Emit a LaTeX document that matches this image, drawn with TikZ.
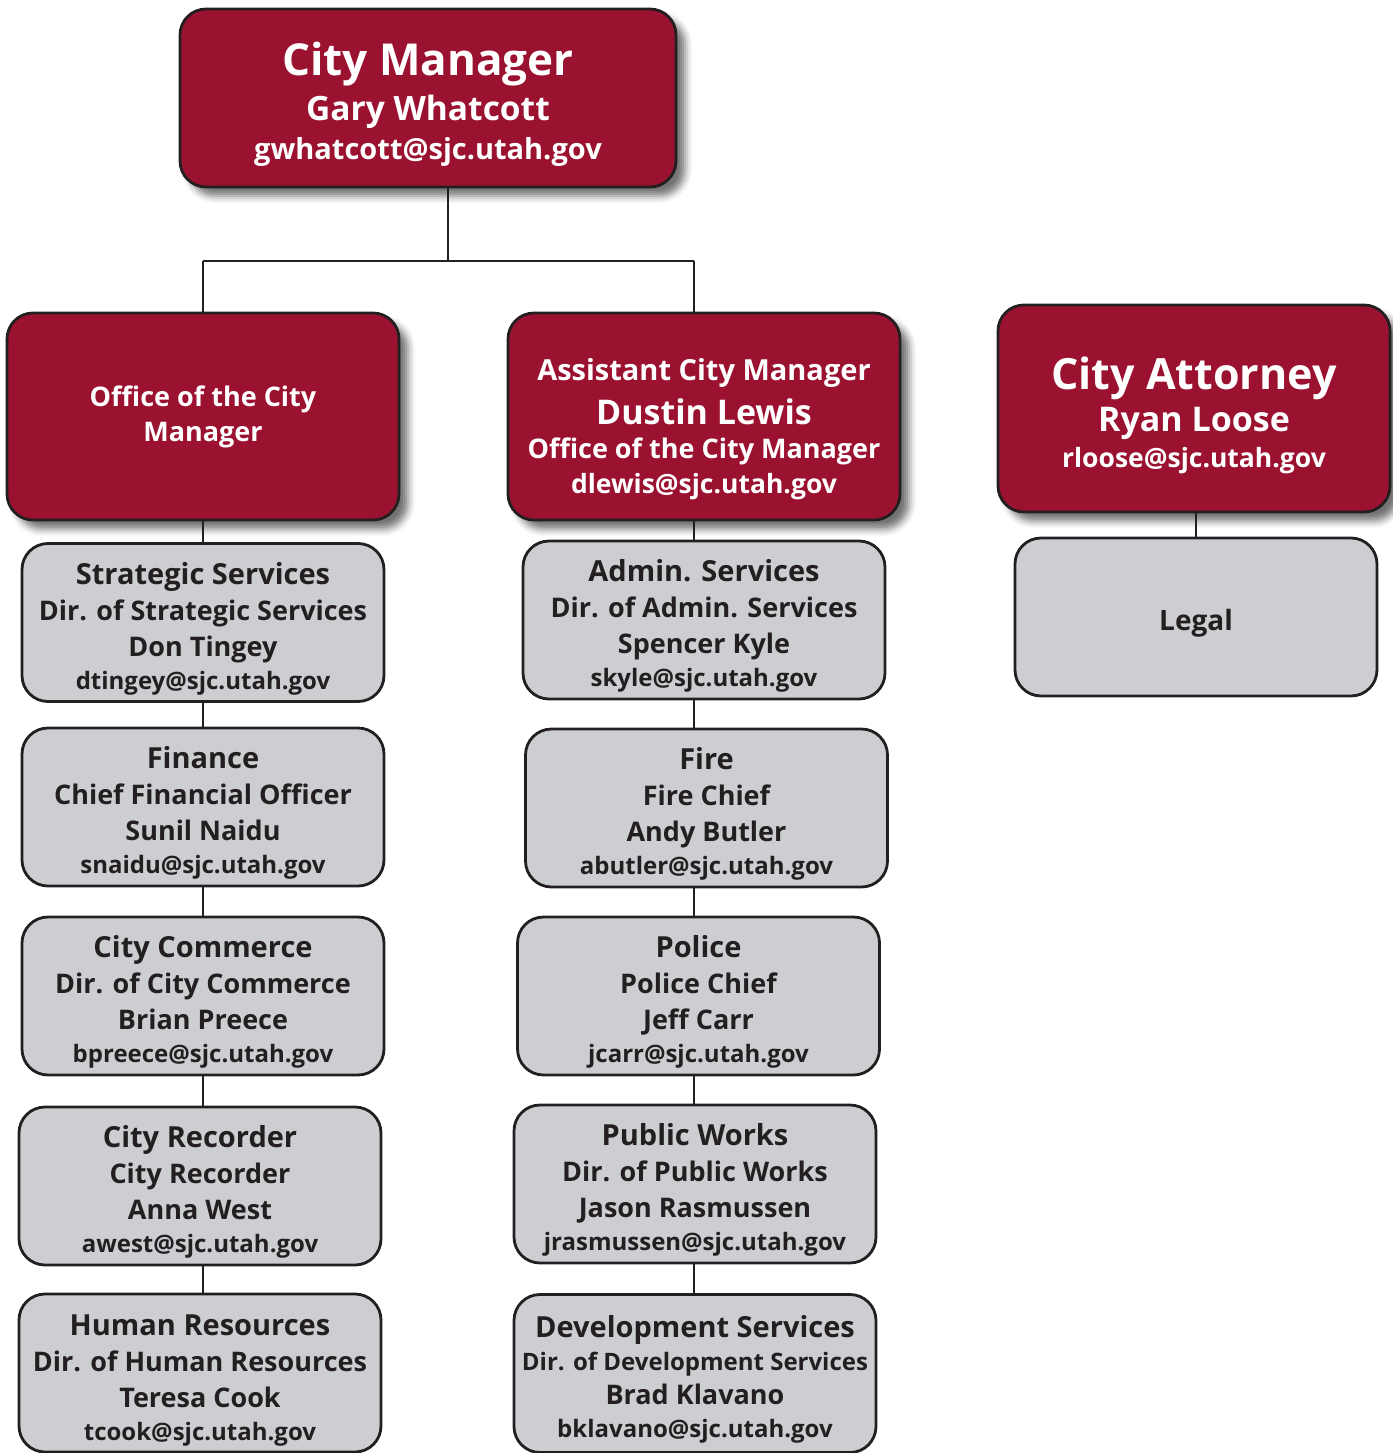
\documentclass[tikz,border=0pt]{standalone}
\usepackage{fontspec}
\setmainfont{Open Sans}
\usetikzlibrary{shadows.blur}
\definecolor{cmred}{HTML}{9B1230}
\definecolor{cmgrey}{HTML}{CDCED2}
\definecolor{cmink}{HTML}{231F20}
% one line of box text at a given size
\newcommand\sz[2]{{\fontsize{#1}{#1}\selectfont #2}}
% invisible strut that pushes a text block down inside its box
\newcommand\txtdrop[1]{\rule{0pt}{#1pt}}
\begin{document}
\begin{tikzpicture}[x=1pt,y=-1pt,
  box/.style={rectangle, rounded corners=26pt, draw=cmink, line width=2.8pt,
    align=center, inner sep=0pt, font=\bfseries\fontsize{27}{36}\selectfont},
  redbox/.style={box, fill=cmred, text=white, minimum width=392pt, minimum height=207pt,
    blur shadow={shadow xshift=9pt, shadow yshift=-9pt, shadow blur radius=7pt, shadow opacity=55}},
  greybox/.style={box, fill=cmgrey, text=cmink, minimum width=362pt, minimum height=158pt},
  link/.style={draw=cmink, line width=2.2pt}]
\useasboundingbox (0,0) rectangle (1392,1453);

\coordinate (split) at (448,261);
\coordinate (lsplit) at (203,261);
\coordinate (rsplit) at (694,261);

% ---- top level ----
\node[redbox, minimum width=496pt, minimum height=178pt] (cm) at (428,98)
  {\txtdrop{45}\sz{44}{City Manager}\\[8pt] \sz{33.5}{Gary Whatcott}\\[3pt] \sz{29}{gwhatcott@sjc.utah.gov}};

% ---- second level ----
\node[redbox] (ocm) at (203,416.5) {\sz{27}{Office of the City}\\[-1pt] \sz{27}{Manager}};
\node[redbox] (acm) at (704,416.5)
  {\txtdrop{46.5}\sz{29}{Assistant City Manager}\\[8pt] \sz{34}{Dustin Lewis}\\[-2pt] \sz{27}{Office of the City Manager}\\[-1pt] \sz{26.5}{dlewis@sjc.utah.gov}};
\node[redbox] (cat) at (1194,408.5)
  {\txtdrop{47}\sz{43}{City Attorney}\\[6pt] \sz{34}{Ryan Loose}\\[0pt] \sz{26.5}{rloose@sjc.utah.gov}};

% ---- departments under the Office of the City Manager ----
\node[greybox] (ss) at (203,622.5)
  {\txtdrop{34.5}\sz{29}{Strategic Services}\\ Dir. of Strategic Services\\ Don Tingey\\[-3pt] \sz{24}{dtingey@sjc.utah.gov}};
\node[greybox] (fin) at (203,807)
  {\txtdrop{34.5}\sz{29}{Finance}\\ Chief Financial Officer\\ Sunil Naidu\\[-3pt] \sz{24}{snaidu@sjc.utah.gov}};
\node[greybox] (com) at (203,996)
  {\txtdrop{34.5}\sz{29}{City Commerce}\\ Dir. of City Commerce\\ Brian Preece\\[-3pt] \sz{24}{bpreece@sjc.utah.gov}};
\node[greybox] (rec) at (200,1186)
  {\txtdrop{34.5}\sz{29}{City Recorder}\\ City Recorder\\ Anna West\\[-3pt] \sz{24}{awest@sjc.utah.gov}};
\node[greybox] (hr) at (200,1373)
  {\txtdrop{35.5}\sz{29}{Human Resources}\\ Dir. of Human Resources\\ Teresa Cook\\[-3pt] \sz{24}{tcook@sjc.utah.gov}};

% ---- departments under the Assistant City Manager ----
\node[greybox] (adm) at (704,620)
  {\txtdrop{34.5}\sz{29}{Admin. Services}\\ Dir. of Admin. Services\\ Spencer Kyle\\[-3pt] \sz{24}{skyle@sjc.utah.gov}};
\node[greybox] (fire) at (706.5,808)
  {\txtdrop{34.5}\sz{29}{Fire}\\ Fire Chief\\ Andy Butler\\[-3pt] \sz{24}{abutler@sjc.utah.gov}};
\node[greybox] (pol) at (698.5,996)
  {\txtdrop{34.5}\sz{29}{Police}\\ Police Chief\\ Jeff Carr\\[-3pt] \sz{24}{jcarr@sjc.utah.gov}};
\node[greybox] (pw) at (695,1184)
  {\txtdrop{34.5}\sz{29}{Public Works}\\ Dir. of Public Works\\ Jason Rasmussen\\[-3pt] \sz{24}{jrasmussen@sjc.utah.gov}};
\node[greybox] (dev) at (695,1373.5)
  {\txtdrop{34}\sz{29}{Development Services}\\[-3pt] \sz{24}{Dir. of Development Services}\\[-2pt] Brad Klavano\\[-3pt] \sz{24}{bklavano@sjc.utah.gov}};

% ---- under the City Attorney ----
\node[greybox] (leg) at (1196,617) {\txtdrop{33}\sz{28}{Legal}};

% ---- connectors ----
\draw[link] (cm.south -| split) -- (split);
\draw[link] (lsplit) -- (rsplit);
\draw[link] (lsplit) -- (ocm.north -| lsplit);
\draw[link] (rsplit) -- (acm.north -| rsplit);
\draw[link] (ocm.south -| lsplit) -- (ss.north -| lsplit);
\draw[link] (ss.south -| lsplit) -- (fin.north -| lsplit);
\draw[link] (fin.south -| lsplit) -- (com.north -| lsplit);
\draw[link] (com.south -| lsplit) -- (rec.north -| lsplit);
\draw[link] (rec.south -| lsplit) -- (hr.north -| lsplit);
\draw[link] (acm.south -| rsplit) -- (adm.north -| rsplit);
\draw[link] (adm.south -| rsplit) -- (fire.north -| rsplit);
\draw[link] (fire.south -| rsplit) -- (pol.north -| rsplit);
\draw[link] (pol.south -| rsplit) -- (pw.north -| rsplit);
\draw[link] (pw.south -| rsplit) -- (dev.north -| rsplit);
\draw[link] (cat.south -| leg) -- (leg.north);
\end{tikzpicture}
\end{document}
